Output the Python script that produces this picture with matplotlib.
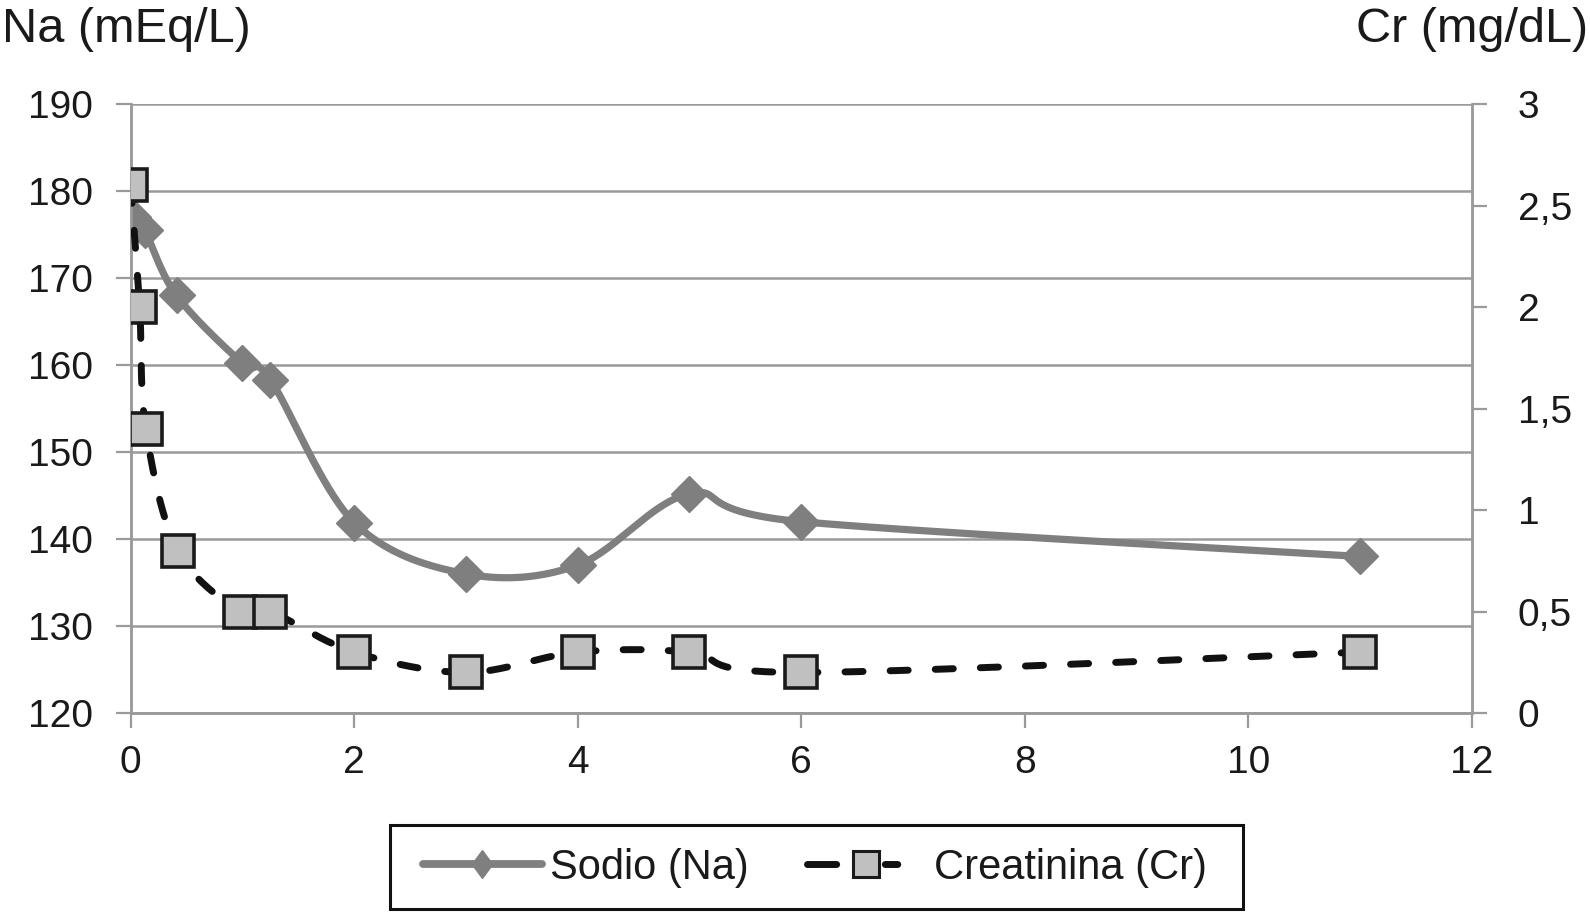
import numpy as np
import matplotlib
matplotlib.use("Agg")
import matplotlib.pyplot as plt
from matplotlib.lines import Line2D
from matplotlib.patches import Rectangle

# ---- data ----
days_na = [0.02, 0.125, 0.41, 1.0, 1.25, 2, 3, 4, 5, 6, 11]
sodio_na = [177.0, 175.5, 168.0, 160.2, 158.3, 141.9, 136.0, 137.0, 145.2, 142.0, 138.0]

days_cr = [0.0, 0.08, 0.135, 0.42, 0.98, 1.25, 2, 3, 4, 5, 6, 11]
creat_cr = [2.6, 2.0, 1.4, 0.8, 0.5, 0.5, 0.3, 0.2, 0.3, 0.3, 0.2, 0.3]

x_ticks = [0, 2, 4, 6, 8, 10, 12]
na_ticks = [120, 130, 140, 150, 160, 170, 180, 190]
cr_ticks = [0, 0.5, 1, 1.5, 2, 2.5, 3]
cr_tick_labels = ["0", "0,5", "1", "1,5", "2", "2,5", "3"]

label_na_axis = "Na (mEq/L)"
label_cr_axis = "Cr (mg/dL)"
legend_labels = ["Sodio (Na)", "Creatinina (Cr)"]

plt.rcParams["font.family"] = ["Liberation Sans", "DejaVu Sans"]

GRID = "#9a9a9a"
NA_COLOR = "#7f7f7f"
TXT = "#1a1a1a"

fig = plt.figure(figsize=(15.9, 9.13), dpi=100)
ax = fig.add_axes([0.0822, 0.219, 0.9256 - 0.0822, 0.886 - 0.219])
ax2 = ax.twinx()

ax.set_xlim(0, 12)
ax.set_ylim(120, 190)
ax2.set_ylim(0, 3)


def smooth_curve(axis, xs, ys, n=40):
    """Excel-like smoothed line: Catmull-Rom Bezier in display space."""
    pts = axis.transData.transform(np.column_stack([xs, ys]))
    out = [pts[0]]
    m = len(pts)
    for i in range(m - 1):
        p0 = pts[i - 1] if i > 0 else pts[i]
        p1 = pts[i]
        p2 = pts[i + 1]
        p3 = pts[i + 2] if i + 2 < m else pts[i + 1]
        c1 = p1 + (p2 - p0) / 6.0
        c2 = p2 - (p3 - p1) / 6.0
        t = np.linspace(0, 1, n)[1:, None]
        seg = ((1 - t) ** 3) * p1 + 3 * ((1 - t) ** 2) * t * c1 + 3 * (1 - t) * t ** 2 * c2 + t ** 3 * p2
        out.extend(seg)
    out = np.array(out)
    data = axis.transData.inverted().transform(out)
    return data[:, 0], data[:, 1]


# grid
ax.set_yticks(na_ticks)
ax.set_xticks(x_ticks)
ax.grid(axis="y", color=GRID, lw=1.8)
ax.set_axisbelow(True)

# Sodio line (smoothed) + diamond markers
sx, sy = smooth_curve(ax, days_na, sodio_na)
ax.plot(sx, sy, color=NA_COLOR, lw=5.2, solid_capstyle="round", zorder=3)
ax.plot(days_na, sodio_na, ls="none", marker="D", ms=18, mfc=NA_COLOR,
        mec=NA_COLOR, mew=1, zorder=4)

# Creatinina dashed line (smoothed) + square markers
cx, cy = smooth_curve(ax2, days_cr, creat_cr)
ax2.plot(cx, cy, color="#111111", lw=5, ls=(0, (2.6, 3.9)),
         dash_capstyle="round", zorder=3)
ax2.plot(days_cr, creat_cr, ls="none", marker="s", ms=23, mfc="#c0c0c0",
         mec="#1a1a1a", mew=2.6, zorder=4)

# spines / ticks
for a in (ax, ax2):
    for s in a.spines.values():
        s.set_color(GRID)
        s.set_linewidth(1.8)
    a.spines["top"].set_visible(False)

ax.tick_params(axis="both", which="both", direction="out", length=11, width=1.6,
               color=GRID, labelsize=28, labelcolor=TXT)
ax.tick_params(axis="y", pad=16)
ax.tick_params(axis="x", pad=12)
ax.set_yticklabels([str(v) for v in na_ticks])
ax.set_xticklabels([str(v) for v in x_ticks])

ax2.set_yticks(cr_ticks)
ax2.set_yticklabels(cr_tick_labels)
ax2.tick_params(axis="y", direction="out", length=11, width=1.6, color=GRID,
                labelsize=28, labelcolor=TXT, pad=22)

# axis titles
fig.text(0.001, 0.968, label_na_axis, fontsize=35, ha="left", va="center", color=TXT)
fig.text(0.999, 0.968, label_cr_axis, fontsize=35, ha="right", va="center", color=TXT)

# legend (frameless) + separate box
leg_diamond = [(0, 1), (0.74, 0), (0, -1), (-0.74, 0), (0, 1)]
h_na = Line2D([], [], color=NA_COLOR, lw=5.6, solid_capstyle="round", marker=leg_diamond,
              ms=20, mfc=NA_COLOR, mec=NA_COLOR)
h_cr = Line2D([], [], color="#111111", lw=5, ls=(0, (4.2, 7.0, 1.8, 8.0)), dash_capstyle="round",
              marker="s", ms=19, mfc="#c0c0c0", mec="#1a1a1a", mew=2.2)
leg = fig.legend([h_na, h_cr], legend_labels, loc="center", bbox_to_anchor=(0.5126, 0.0498),
                 ncol=2, fontsize=30, frameon=False,
                 handlelength=2.85, handletextpad=0.2, columnspacing=1.4,
                 borderpad=0.3, borderaxespad=0, numpoints=1)
for t in leg.get_texts():
    t.set_color(TXT)

fig.patches.append(Rectangle((0.2453, 0.0045), 0.7818 - 0.2453, 0.0964 - 0.0045,
                             transform=fig.transFigure, fill=False,
                             edgecolor="#111111", lw=2.2, zorder=5))

fig.savefig("out.png", dpi=100)
